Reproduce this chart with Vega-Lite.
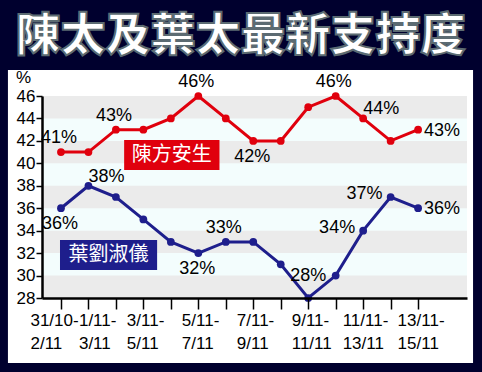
{
  "$schema": "https://vega.github.io/schema/vega-lite/v6.json",
  "width": 425,
  "height": 202,
  "autosize": {"type": "none"},
  "padding": {"left": 42, "top": 96, "right": 15, "bottom": 74},
  "background": "#00002e",
  "title": {"text": "陳太及葉太最新支持度", "color": "#ffffff", "font": "Noto Sans CJK TC", "fontSize": 45, "fontWeight": 900, "anchor": "middle", "frame": "bounds", "offset": 8, "style": "outlined"},
  "config": {
    "view": {"stroke": null},
    "style": {"outlined": {"stroke": "#5c6b72", "strokeWidth": 2}},
    "text": {"font": "Liberation Sans", "fontSize": 18, "color": "#000000", "baseline": "middle"}
  },
  "datasets": {
    "polls": [
      {"i": 0, "period": "31/10-2/11", "series": "陳方安生", "v": 41},
      {"i": 1, "period": "1/11-3/11", "series": "陳方安生", "v": 41},
      {"i": 2, "period": "2/11-4/11", "series": "陳方安生", "v": 43},
      {"i": 3, "period": "3/11-5/11", "series": "陳方安生", "v": 43},
      {"i": 4, "period": "4/11-6/11", "series": "陳方安生", "v": 44},
      {"i": 5, "period": "5/11-7/11", "series": "陳方安生", "v": 46},
      {"i": 6, "period": "6/11-8/11", "series": "陳方安生", "v": 44},
      {"i": 7, "period": "7/11-9/11", "series": "陳方安生", "v": 42},
      {"i": 8, "period": "8/11-10/11", "series": "陳方安生", "v": 42},
      {"i": 9, "period": "9/11-11/11", "series": "陳方安生", "v": 45},
      {"i": 10, "period": "10/11-12/11", "series": "陳方安生", "v": 46},
      {"i": 11, "period": "11/11-13/11", "series": "陳方安生", "v": 44},
      {"i": 12, "period": "12/11-14/11", "series": "陳方安生", "v": 42},
      {"i": 13, "period": "13/11-15/11", "series": "陳方安生", "v": 43},
      {"i": 0, "period": "31/10-2/11", "series": "葉劉淑儀", "v": 36},
      {"i": 1, "period": "1/11-3/11", "series": "葉劉淑儀", "v": 38},
      {"i": 2, "period": "2/11-4/11", "series": "葉劉淑儀", "v": 37},
      {"i": 3, "period": "3/11-5/11", "series": "葉劉淑儀", "v": 35},
      {"i": 4, "period": "4/11-6/11", "series": "葉劉淑儀", "v": 33},
      {"i": 5, "period": "5/11-7/11", "series": "葉劉淑儀", "v": 32},
      {"i": 6, "period": "6/11-8/11", "series": "葉劉淑儀", "v": 33},
      {"i": 7, "period": "7/11-9/11", "series": "葉劉淑儀", "v": 33},
      {"i": 8, "period": "8/11-10/11", "series": "葉劉淑儀", "v": 31},
      {"i": 9, "period": "9/11-11/11", "series": "葉劉淑儀", "v": 28},
      {"i": 10, "period": "10/11-12/11", "series": "葉劉淑儀", "v": 30},
      {"i": 11, "period": "11/11-13/11", "series": "葉劉淑儀", "v": 34},
      {"i": 12, "period": "12/11-14/11", "series": "葉劉淑儀", "v": 37},
      {"i": 13, "period": "13/11-15/11", "series": "葉劉淑儀", "v": 36}
    ],
    "bands": [
      {"from": 28, "to": 30},
      {"from": 32, "to": 34},
      {"from": 36, "to": 38},
      {"from": 40, "to": 42},
      {"from": 44, "to": 46}
    ]
  },
  "data": {"name": "polls"},
  "layer": [
    {
      "data": {"values": [{}]},
      "mark": {"type": "rect", "color": "#ffffff"},
      "encoding": {
        "x": {
          "datum": -1.93, "type": "quantitative",
          "scale": {"domain": [-0.69, 14.78], "nice": false, "zero": false},
          "axis": {
            "title": null, "grid": false, "zindex": 1,
            "tickCount": 15,
            "domainColor": "#000000", "domainWidth": 2.5,
            "tickColor": "#000000", "tickWidth": 1.5, "tickSize": 11,
            "tickOpacity": {"condition": {"test": "datum.value > 13.5", "value": 0}, "value": 1},
            "labelFont": "Liberation Sans", "labelFontSize": 17, "labelColor": "#000000",
            "labelAlign": "left", "labelBaseline": "top", "labelPadding": 3, "labelLineHeight": 23,
            "labelOverlap": false, "labelBound": false, "labelFlush": false,
            "labelOffset": {"expr": "datum.value == 0 ? -31 : datum.value == 1 ? -10 : datum.value >= 11 ? -21 : -17"},
            "labelExpr": "indexof([0, 1, 3, 5, 7, 9, 11, 13], datum.value) < 0 ? '' : [(datum.value == 0 ? '31/10' : datum.value + '/11') + '-', (datum.value + 2) + '/11']"
          }
        },
        "x2": {"datum": 15.0},
        "y": {
          "datum": 48.32, "type": "quantitative",
          "scale": {"domain": [28, 46], "nice": false, "zero": false},
          "axis": {
            "title": "%", "grid": false, "zindex": 1,
            "tickCount": 9,
            "domainColor": "#000000", "domainWidth": 2.5,
            "tickColor": "#000000", "tickWidth": 1.5, "tickSize": 6,
            "labelFont": "Liberation Sans", "labelFontSize": 17, "labelColor": "#000000", "labelPadding": 1,
            "labelOverlap": false, "labelBound": false, "labelFlush": false,
            "titleAngle": 0, "titleX": -19, "titleY": -14, "titleAlign": "center", "titleBaseline": "alphabetic",
            "titleFont": "Liberation Sans", "titleFontSize": 17, "titleFontWeight": "normal", "titleColor": "#000000"
          }
        },
        "y2": {"datum": 22.2}
      }
    },
    {
      "data": {"values": [{}]},
      "mark": {"type": "rect", "color": "#f3fdfd"},
      "encoding": {
        "x": {"datum": -0.69, "type": "quantitative"},
        "x2": {"datum": 14.78},
        "y": {"datum": 28, "type": "quantitative"},
        "y2": {"datum": 46}
      }
    },
    {
      "data": {"name": "bands"},
      "mark": {"type": "rect", "color": "#ebebeb"},
      "encoding": {
        "x": {"datum": -0.69, "type": "quantitative"},
        "x2": {"datum": 14.78},
        "y": {"field": "from", "type": "quantitative"},
        "y2": {"field": "to"}
      }
    },
    {
      "mark": {"type": "line", "strokeWidth": 3},
      "encoding": {
        "x": {"field": "i", "type": "quantitative"},
        "y": {"field": "v", "type": "quantitative"},
        "color": {"field": "series", "type": "nominal", "scale": {"domain": ["陳方安生", "葉劉淑儀"], "range": ["#e0000d", "#1e1e8c"]}, "legend": null}
      }
    },
    {
      "mark": {"type": "point", "filled": true, "opacity": 1, "size": 60},
      "encoding": {
        "x": {"field": "i", "type": "quantitative"},
        "y": {"field": "v", "type": "quantitative"},
        "color": {"field": "series", "type": "nominal", "legend": null}
      }
    },
    {
      "transform": [
        {"filter": "(datum.series == '陳方安生' && indexof([0, 2, 5, 10], datum.i) >= 0) || (datum.series == '葉劉淑儀' && datum.i == 6)"},
        {"calculate": "datum.v + '%'", "as": "lab"}
      ],
      "mark": {"type": "text", "dy": -14, "dx": -2},
      "encoding": {
        "x": {"field": "i", "type": "quantitative"},
        "y": {"field": "v", "type": "quantitative"},
        "text": {"field": "lab"}
      }
    },
    {
      "transform": [
        {"filter": "datum.series == '葉劉淑儀' && datum.i == 9"},
        {"calculate": "datum.v + '%'", "as": "lab"}
      ],
      "mark": {"type": "text", "dy": -22},
      "encoding": {
        "x": {"field": "i", "type": "quantitative"},
        "y": {"field": "v", "type": "quantitative"},
        "text": {"field": "lab"}
      }
    },
    {
      "transform": [
        {"filter": "(datum.series == '陳方安生' && datum.i == 7) || (datum.series == '葉劉淑儀' && (datum.i == 0 || datum.i == 5))"},
        {"calculate": "datum.v + '%'", "as": "lab"}
      ],
      "mark": {"type": "text", "dy": 16, "dx": -1},
      "encoding": {
        "x": {"field": "i", "type": "quantitative"},
        "y": {"field": "v", "type": "quantitative"},
        "text": {"field": "lab"}
      }
    },
    {
      "transform": [
        {"filter": "(datum.series == '陳方安生' && datum.i == 11) || (datum.series == '葉劉淑儀' && datum.i == 1)"},
        {"calculate": "datum.v + '%'", "as": "lab"}
      ],
      "mark": {"type": "text", "dy": -9, "dx": 18},
      "encoding": {
        "x": {"field": "i", "type": "quantitative"},
        "y": {"field": "v", "type": "quantitative"},
        "text": {"field": "lab"}
      }
    },
    {
      "transform": [
        {"filter": "datum.i == 13"},
        {"calculate": "datum.v + '%'", "as": "lab"}
      ],
      "mark": {"type": "text", "align": "left", "dx": 6, "dy": 1},
      "encoding": {
        "x": {"field": "i", "type": "quantitative"},
        "y": {"field": "v", "type": "quantitative"},
        "text": {"field": "lab"}
      }
    },
    {
      "transform": [
        {"filter": "datum.series == '葉劉淑儀' && (datum.i == 11 || datum.i == 12)"},
        {"calculate": "datum.v + '%'", "as": "lab"}
      ],
      "mark": {"type": "text", "align": "right", "dx": -8, "dy": -3},
      "encoding": {
        "x": {"field": "i", "type": "quantitative"},
        "y": {"field": "v", "type": "quantitative"},
        "text": {"field": "lab"}
      }
    },
    {
      "data": {"values": [{"series": "陳方安生"}]},
      "mark": {"type": "rect", "color": "#e0000d"},
      "encoding": {
        "x": {"datum": 2.3, "type": "quantitative"},
        "x2": {"datum": 5.77},
        "y": {"datum": 42.08, "type": "quantitative"},
        "y2": {"datum": 39.4}
      }
    },
    {
      "data": {"values": [{"series": "陳方安生"}]},
      "mark": {"type": "text", "font": "Noto Sans CJK TC", "fontSize": 20, "color": "#ffffff"},
      "encoding": {
        "x": {"datum": 4.035, "type": "quantitative"},
        "y": {"datum": 40.72, "type": "quantitative"},
        "text": {"field": "series"}
      }
    },
    {
      "data": {"values": [{"series": "葉劉淑儀"}]},
      "mark": {"type": "rect", "color": "#1e1e8c"},
      "encoding": {
        "x": {"datum": -0.035, "type": "quantitative"},
        "x2": {"datum": 3.5},
        "y": {"datum": 33.17, "type": "quantitative"},
        "y2": {"datum": 30.49}
      }
    },
    {
      "data": {"values": [{"series": "葉劉淑儀"}]},
      "mark": {"type": "text", "font": "Noto Sans CJK TC", "fontSize": 20, "color": "#ffffff"},
      "encoding": {
        "x": {"datum": 1.73, "type": "quantitative"},
        "y": {"datum": 31.83, "type": "quantitative"},
        "text": {"field": "series"}
      }
    }
  ]
}
